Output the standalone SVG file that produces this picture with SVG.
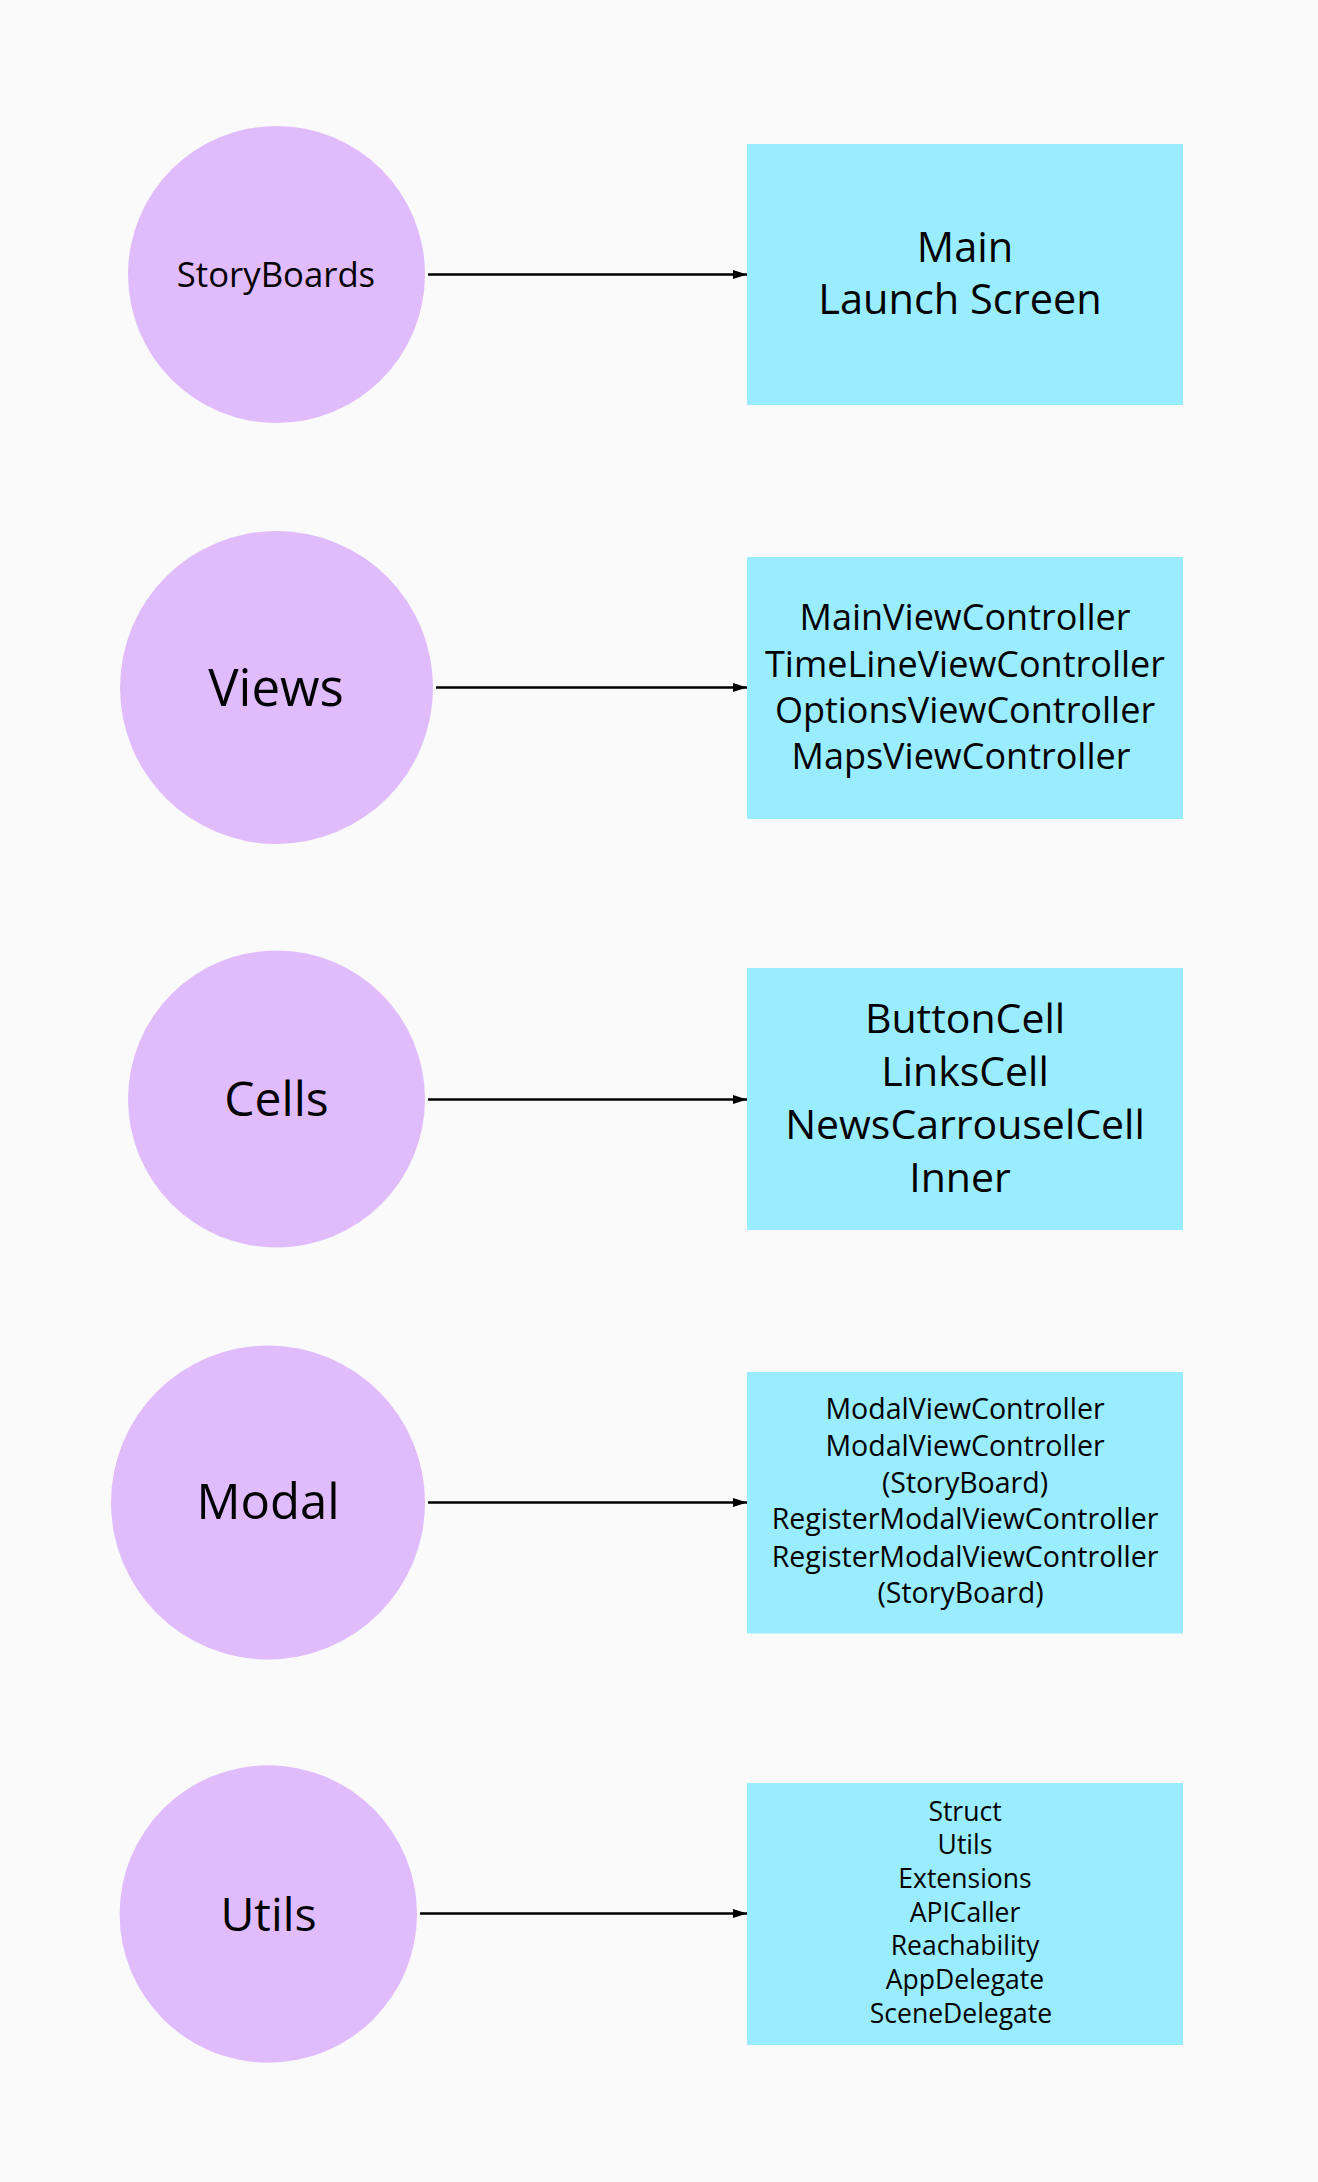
<svg xmlns="http://www.w3.org/2000/svg" width="1318" height="2182" viewBox="0 0 1318 2182">
<defs>
<style>
.c{fill:#e1bcfc}
.b{fill:#9aedfe}
text{font-family:"Open Sans","Liberation Sans",sans-serif;fill:#000;text-anchor:middle}
.e{stroke:#000;stroke-width:2.5;fill:none}
</style>
<marker id="ah" viewBox="0 0 14 10" refX="14" refY="5" markerWidth="14" markerHeight="10" markerUnits="userSpaceOnUse" orient="auto">
<path d="M0,0.5 L14,5 L0,9.5 Z" fill="#000"/>
</marker>
</defs>
<rect width="1318" height="2182" fill="#fafafa"/>
<g id="connectors">
<line class="e" x1="428" y1="274.5" x2="747" y2="274.5" marker-end="url(#ah)"/>
<line class="e" x1="436" y1="687.5" x2="747" y2="687.5" marker-end="url(#ah)"/>
<line class="e" x1="428" y1="1099.5" x2="747" y2="1099.5" marker-end="url(#ah)"/>
<line class="e" x1="428" y1="1502.5" x2="747" y2="1502.5" marker-end="url(#ah)"/>
<line class="e" x1="420" y1="1913.5" x2="747" y2="1913.5" marker-end="url(#ah)"/>
</g>
<g id="storyboards">
<circle class="c" cx="276.5" cy="274.5" r="148.5"/>
<text x="276" y="287" font-size="34.7">StoryBoards</text>
</g>
<g id="storyboards-files">
<rect class="b" x="747" y="144" width="436" height="261"/>
<text x="965" y="262" font-size="41.5">Main</text>
<text x="960" y="314" font-size="41.5">Launch Screen</text>
</g>
<g id="views">
<circle class="c" cx="276.5" cy="687.5" r="156.5"/>
<text x="276" y="705.5" font-size="51">Views</text>
</g>
<g id="views-files">
<rect class="b" x="747" y="557" width="436" height="262"/>
<text x="965" y="630" font-size="36">MainViewController</text>
<text x="965" y="676.5" font-size="36">TimeLineViewController</text>
<text x="965" y="723" font-size="36">OptionsViewController</text>
<text x="961" y="769" font-size="36">MapsViewController</text>
</g>
<g id="cells">
<circle class="c" cx="276.5" cy="1099" r="148.5"/>
<text x="276.5" y="1115.5" font-size="48">Cells</text>
</g>
<g id="cells-files">
<rect class="b" x="747" y="968" width="436" height="262"/>
<text x="965" y="1032.5" font-size="41">ButtonCell</text>
<text x="965" y="1085.5" font-size="41">LinksCell</text>
<text x="965" y="1139" font-size="41">NewsCarrouselCell</text>
<text x="960" y="1191.5" font-size="41">Inner</text>
</g>
<g id="modal">
<circle class="c" cx="268" cy="1502.5" r="157"/>
<text x="268" y="1519" font-size="49">Modal</text>
</g>
<g id="modal-files">
<rect class="b" x="747" y="1372" width="436" height="261.5"/>
<text x="965" y="1419.3" font-size="28.5">ModalViewController</text>
<text x="965" y="1456" font-size="28.5">ModalViewController</text>
<text x="965" y="1492.7" font-size="28.5">(StoryBoard)</text>
<text x="965" y="1529.3" font-size="28.5">RegisterModalViewController</text>
<text x="965" y="1566.5" font-size="28.5">RegisterModalViewController</text>
<text x="960.5" y="1603.3" font-size="28.5">(StoryBoard)</text>
</g>
<g id="utils">
<circle class="c" cx="268.3" cy="1914" r="148.7"/>
<text x="268.5" y="1931" font-size="46.5">Utils</text>
</g>
<g id="utils-files">
<rect class="b" x="747" y="1783" width="436" height="262"/>
<text x="965" y="1820.7" font-size="26.5">Struct</text>
<text x="965" y="1854.3" font-size="26.5">Utils</text>
<text x="965" y="1887.7" font-size="26.5">Extensions</text>
<text x="965" y="1921.7" font-size="26.5">APICaller</text>
<text x="965" y="1955" font-size="26.5">Reachability</text>
<text x="965" y="1988.7" font-size="26.5">AppDelegate</text>
<text x="961" y="2022.7" font-size="26.5">SceneDelegate</text>
</g>
</svg>
